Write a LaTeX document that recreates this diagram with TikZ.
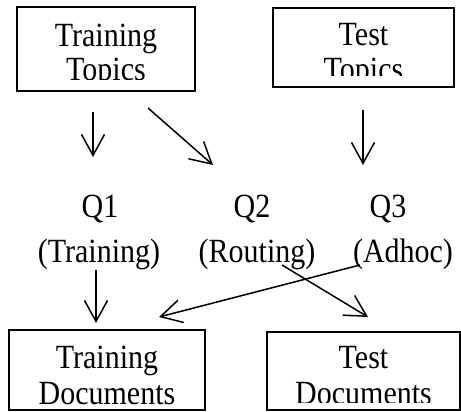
\documentclass[tikz,border=0pt]{standalone}
\usepackage{fontspec}
\setmainfont{Liberation Serif}
\usetikzlibrary{arrows.meta}
\newcommand\stretched[1]{\scalebox{1}[1.13]{#1}}
\begin{document}
\begin{tikzpicture}[x=1pt,y=-1pt,
  box/.style={draw, line width=1.5pt, inner sep=0pt},
  lbl/.style={anchor=base, inner sep=0pt, font=\fontsize{30}{35}\selectfont},
  arr/.style={line width=1.5pt, -{Straight Barb[length=21pt,width=23pt]}}]
\useasboundingbox (0,0) rectangle (461,412);

% boxes
\node[box, minimum width=178pt, minimum height=84pt] (tt) at (106,49) {};
\node[box, minimum width=181pt, minimum height=79pt] (tst) at (363.5,47.5) {};
\node[box, minimum width=196pt, minimum height=80pt] (td) at (107,370) {};
\node[box, minimum width=193pt, minimum height=78pt] (tsd) at (363.5,371) {};

% box texts
\node[lbl] (tt1) at (106,47) {\stretched{Training}};
\begin{scope}
  \clip (17,0) rectangle (195,80);
  \node[lbl] (tt2) at (106,81) {\stretched{Topics}};
\end{scope}
\node[lbl] (tst1) at (363.5,46) {\stretched{Test}};
\begin{scope}
  \clip (273,0) rectangle (454,76);
  \node[lbl] (tst2) at (363.5,81) {\stretched{Topics}};
\end{scope}
\node[lbl] (td1) at (107,368) {\stretched{Training}};
\node[lbl] (td2) at (107,404) {\stretched{Documents}};
\node[lbl] (tsd1) at (363.5,368) {\stretched{Test}};
\begin{scope}
  \clip (267,340) rectangle (460,402);
  \node[lbl] (tsd2) at (363.5,404) {\stretched{Documents}};
\end{scope}

% query labels
\node[lbl] (q1) at (100,217) {\stretched{Q1}};
\node[lbl] (q2) at (252,217) {\stretched{Q2}};
\node[lbl] (q3) at (388,217) {\stretched{Q3}};
\node[lbl] (q1b) at (99,262) {\stretched{(Training)}};
\node[lbl] (q2b) at (257,262) {\stretched{(Routing)}};
\node[lbl] (q3b) at (403,262) {\stretched{(Adhoc)}};

% arrow end points
\coordinate (a1s) at (93,112);  \coordinate (a1e) at (93,157);
\coordinate (a2s) at (148,108); \coordinate (a2e) at (213,165);
\coordinate (a3s) at (363,110); \coordinate (a3e) at (363,165);
\coordinate (a4s) at (96,270);  \coordinate (a4e) at (96,323);
\coordinate (a5s) at (360,265); \coordinate (a5e) at (159,317);
\coordinate (a6s) at (282,265); \coordinate (a6e) at (368,317);

\draw[arr] (a1s) -- (a1e);
\draw[arr] (a2s) -- (a2e);
\draw[arr] (a3s) -- (a3e);
\draw[arr] (a4s) -- (a4e);
\draw[arr] (a5s) -- (a5e);
\draw[arr] (a6s) -- (a6e);
\end{tikzpicture}
\end{document}
